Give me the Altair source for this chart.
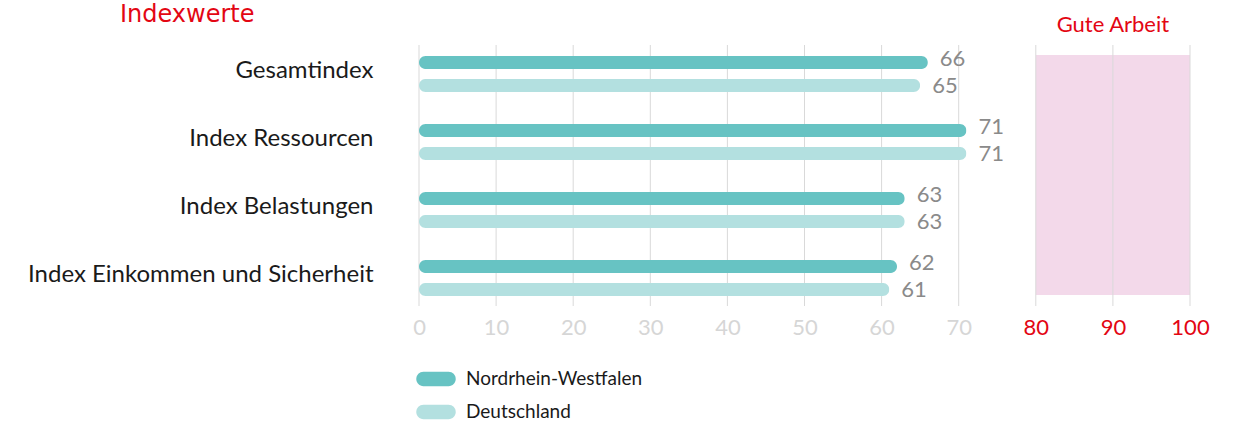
import altair as alt
import pandas as pd

categories = ["Gesamtindex", "Index Ressourcen", "Index Belastungen", "Index Einkommen und Sicherheit"]
series = ["Nordrhein-Westfalen", "Deutschland"]
nrw_values = [66, 71, 63, 62]
de_values = [65, 71, 63, 61]
tick_values = [0, 10, 20, 30, 40, 50, 60, 70, 80, 90, 100]
zone_start, zone_end, zone_label = 80, 100, "Gute Arbeit"

rows = []
for c, a, b in zip(categories, nrw_values, de_values):
    rows.append({"cat": c, "series": series[0], "value": a})
    rows.append({"cat": c, "series": series[1], "value": b})
df = pd.DataFrame(rows)

FONT = "Lato"
RED = "#e30613"
colors = ["#67c3c3", "#b3e0e0"]

xscale = alt.Scale(domain=[0, 100], nice=False, zero=True)
yscale = alt.Scale(domain=categories, paddingInner=0, paddingOuter=0)
yoff_scale = alt.Scale(domain=series, paddingInner=0, paddingOuter=0.48)

zone_df = pd.DataFrame({"a": [zone_start], "b": [zone_end], "mid": [(zone_start + zone_end) / 2], "label": [zone_label]})
zone = alt.Chart(zone_df).mark_rect(color="#f3d9ea").encode(
    x=alt.X("a:Q", scale=xscale, axis=alt.Axis(
        values=tick_values, grid=False, domain=False, ticks=False, title=None,
        labelFontSize=22, labelFont=FONT, labelPadding=5, labelFlush=False,
        labelColor={"condition": {"test": "datum.value >= 80", "value": RED}, "value": "#d6d6d6"},
    )),
    x2="b:Q",
    y=alt.value(15),
    y2=alt.value(255),
)
zone_text = alt.Chart(zone_df).mark_text(color=RED, fontSize=22, font=FONT, baseline="middle").encode(
    x=alt.X("mid:Q", scale=xscale), y=alt.value(-15), text="label:N"
)

grid_df = pd.DataFrame({"t": tick_values})
grid = alt.Chart(grid_df).mark_rule(color="#d9d9d9", strokeWidth=1).encode(
    x=alt.X("t:Q", scale=xscale), y=alt.value(5), y2=alt.value(266)
)

legend_path = "M-0.74,-0.42 L0.74,-0.42 A0.42,0.42 0 0 1 0.74,0.42 L-0.74,0.42 A0.42,0.42 0 0 1 -0.74,-0.42 Z"

bars = alt.Chart(df).mark_bar(size=13, cornerRadius=6.5).encode(
    x=alt.X("value:Q", scale=xscale),
    y=alt.Y("cat:N", scale=yscale, sort=categories, axis=alt.Axis(
        title=None, domain=False, ticks=False, labelFontSize=24, labelFont=FONT,
        labelColor="#1a1a1a", labelPadding=46, labelLimit=500, labelOffset=-3)),
    yOffset=alt.YOffset("series:N", scale=yoff_scale, sort=series),
    color=alt.Color("series:N", scale=alt.Scale(domain=series, range=colors), sort=series,
                    legend=alt.Legend(title=None, orient="none", legendX=0, legendY=322,
                                      symbolType=legend_path, symbolSize=1156, symbolStrokeWidth=0,
                                      symbolOpacity=1, labelFontSize=19, labelFont=FONT, labelColor="#1a1a1a",
                                      labelOffset=13, rowPadding=6, labelLimit=400)),
)


def value_labels(name, dy):
    return alt.Chart(df).transform_filter(alt.datum.series == name).mark_text(
        align="left", baseline="middle", dx=12, dy=dy, fontSize=22, font=FONT, color="#8a8a8a"
    ).encode(
        x=alt.X("value:Q", scale=xscale),
        y=alt.Y("cat:N", scale=yscale, sort=categories),
        yOffset=alt.YOffset("series:N", scale=yoff_scale, sort=series),
        text="value:Q",
    )


labels_nrw = value_labels(series[0], -4)
labels_de = value_labels(series[1], 1)

title_df = pd.DataFrame({"t": ["Indexwerte"]})
title = alt.Chart(title_df).mark_text(align="left", baseline="middle", color=RED, fontSize=24, font="DejaVu Sans").encode(
    x=alt.value(-299), y=alt.value(-25), text="t:N"
)

chart = alt.layer(zone, grid, zone_text, bars, labels_nrw, labels_de, title).properties(
    width=771, height=272,
    autosize=alt.AutoSizeParams(type="none"),
    padding={"left": 419, "top": 40, "right": 44, "bottom": 110},
).configure_view(stroke=None)

chart.save("out.html", embed_options={"renderer": "svg", "actions": False})
